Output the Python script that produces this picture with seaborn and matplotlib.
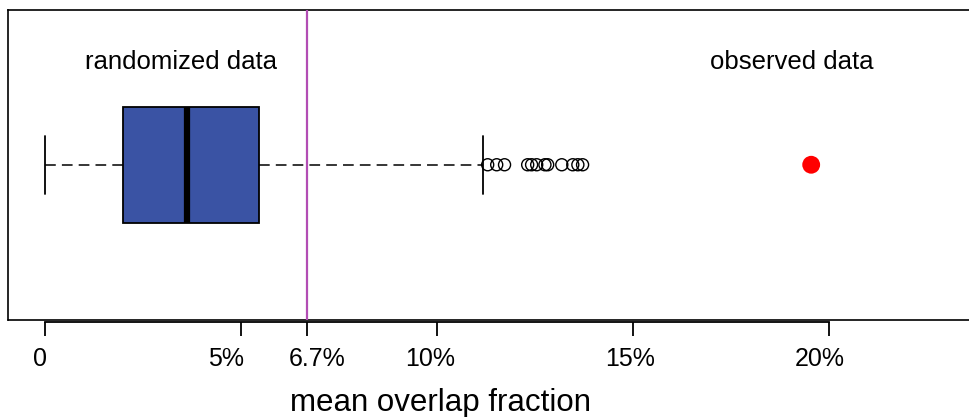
import matplotlib
matplotlib.use("Agg")
import matplotlib.pyplot as plt
import matplotlib.transforms as mtransforms
import seaborn as sns
import pandas as pd

# STYLE
sns.set_style("white")
plt.rcParams['font.family'] = ['Liberation Sans', 'DejaVu Sans']
plt.rcParams['text.color'] = 'black'
plt.rcParams['axes.labelcolor'] = 'black'
plt.rcParams['xtick.color'] = 'black'

# DATA (percent)
box_low = 0.0
box_q1 = 1.99
box_median = 3.62
box_q3 = 5.48
box_high = 11.17
outliers = [11.30, 11.53, 11.73, 12.32, 12.42, 12.55, 12.76, 12.83, 13.19, 13.47, 13.60, 13.72]
observed = [19.55]
threshold = 6.7
tick_values = [0, 5, 6.7, 10, 15, 20]
tick_labels = ["0", "5%", "6.7%", "10%", "15%", "20%"]
tick_shift_pt = [-3.6, -10.8, 7.2, -5, -2.2, -6.5]

fig = plt.figure(figsize=(9.7, 4.17), dpi=100)
ax = fig.add_axes([8.5 / 970, 97.5 / 417, 1 - 8.5 / 970, 309.5 / 417])

# BOX
stats = [dict(whislo=box_low, q1=box_q1, med=box_median, q3=box_q3,
              whishi=box_high, fliers=[])]
ax.bxp(stats, positions=[0.5], widths=0.374, capwidths=0.187,
       orientation="horizontal", patch_artist=True, showfliers=False,
       boxprops=dict(facecolor="#3a53a4", edgecolor="black", linewidth=1.3),
       medianprops=dict(color="black", linewidth=4.5, solid_capstyle="butt"),
       whiskerprops=dict(color="black", linewidth=1.1, linestyle=(0, (7, 4))),
       capprops=dict(color="black", linewidth=1.3))

# OUTLIERS + OBSERVED
out_df = pd.DataFrame({"x": outliers, "y": [0.5] * len(outliers)})
sns.scatterplot(data=out_df, x="x", y="y", ax=ax, s=75, marker="o",
                facecolor="none", edgecolor="black", linewidth=1.0, zorder=4)
obs_df = pd.DataFrame({"x": observed, "y": [0.5] * len(observed)})
sns.scatterplot(data=obs_df, x="x", y="y", ax=ax, s=165, color="red",
                edgecolor="none", zorder=4)

ax.axvline(threshold, color="#b24db4", linewidth=1.6, zorder=3)

ax.text(0.179, 0.81, "randomized data", transform=ax.transAxes,
        ha="center", va="baseline", fontsize=18.5)
ax.text(0.815, 0.81, "observed data", transform=ax.transAxes,
        ha="center", va="baseline", fontsize=18.5)

ax.set_xlim(-0.92, 23.6)
ax.set_ylim(0, 1)
ax.set_yticks([])
ax.set_ylabel("")

# frame
for side in ["left", "top"]:
    ax.spines[side].set_linewidth(1.2)
    ax.spines[side].set_color("black")
ax.spines["right"].set_visible(False)
ax.axhline(0, color="black", linewidth=1.2, clip_on=False)

# R-style axis below frame
ax.spines["bottom"].set_position(("outward", 2))
ax.spines["bottom"].set_bounds(0, 20)
ax.spines["bottom"].set_linewidth(1.3)
ax.spines["bottom"].set_color("black")
ax.set_xticks(tick_values)
ax.set_xticklabels(tick_labels, fontsize=18)
ax.tick_params(axis="x", direction="out", length=10, width=1.3, pad=8,
               bottom=True, color="black")
for lab, sh in zip(ax.get_xticklabels(), tick_shift_pt):
    lab.set_transform(lab.get_transform() +
                      mtransforms.ScaledTranslation(sh / 72, 0, fig.dpi_scale_trans))
ax.set_xlabel("mean overlap fraction", fontsize=22.5, labelpad=12)
ax.xaxis.label.set_x(0.449)

fig.savefig("out.png", dpi=100)
